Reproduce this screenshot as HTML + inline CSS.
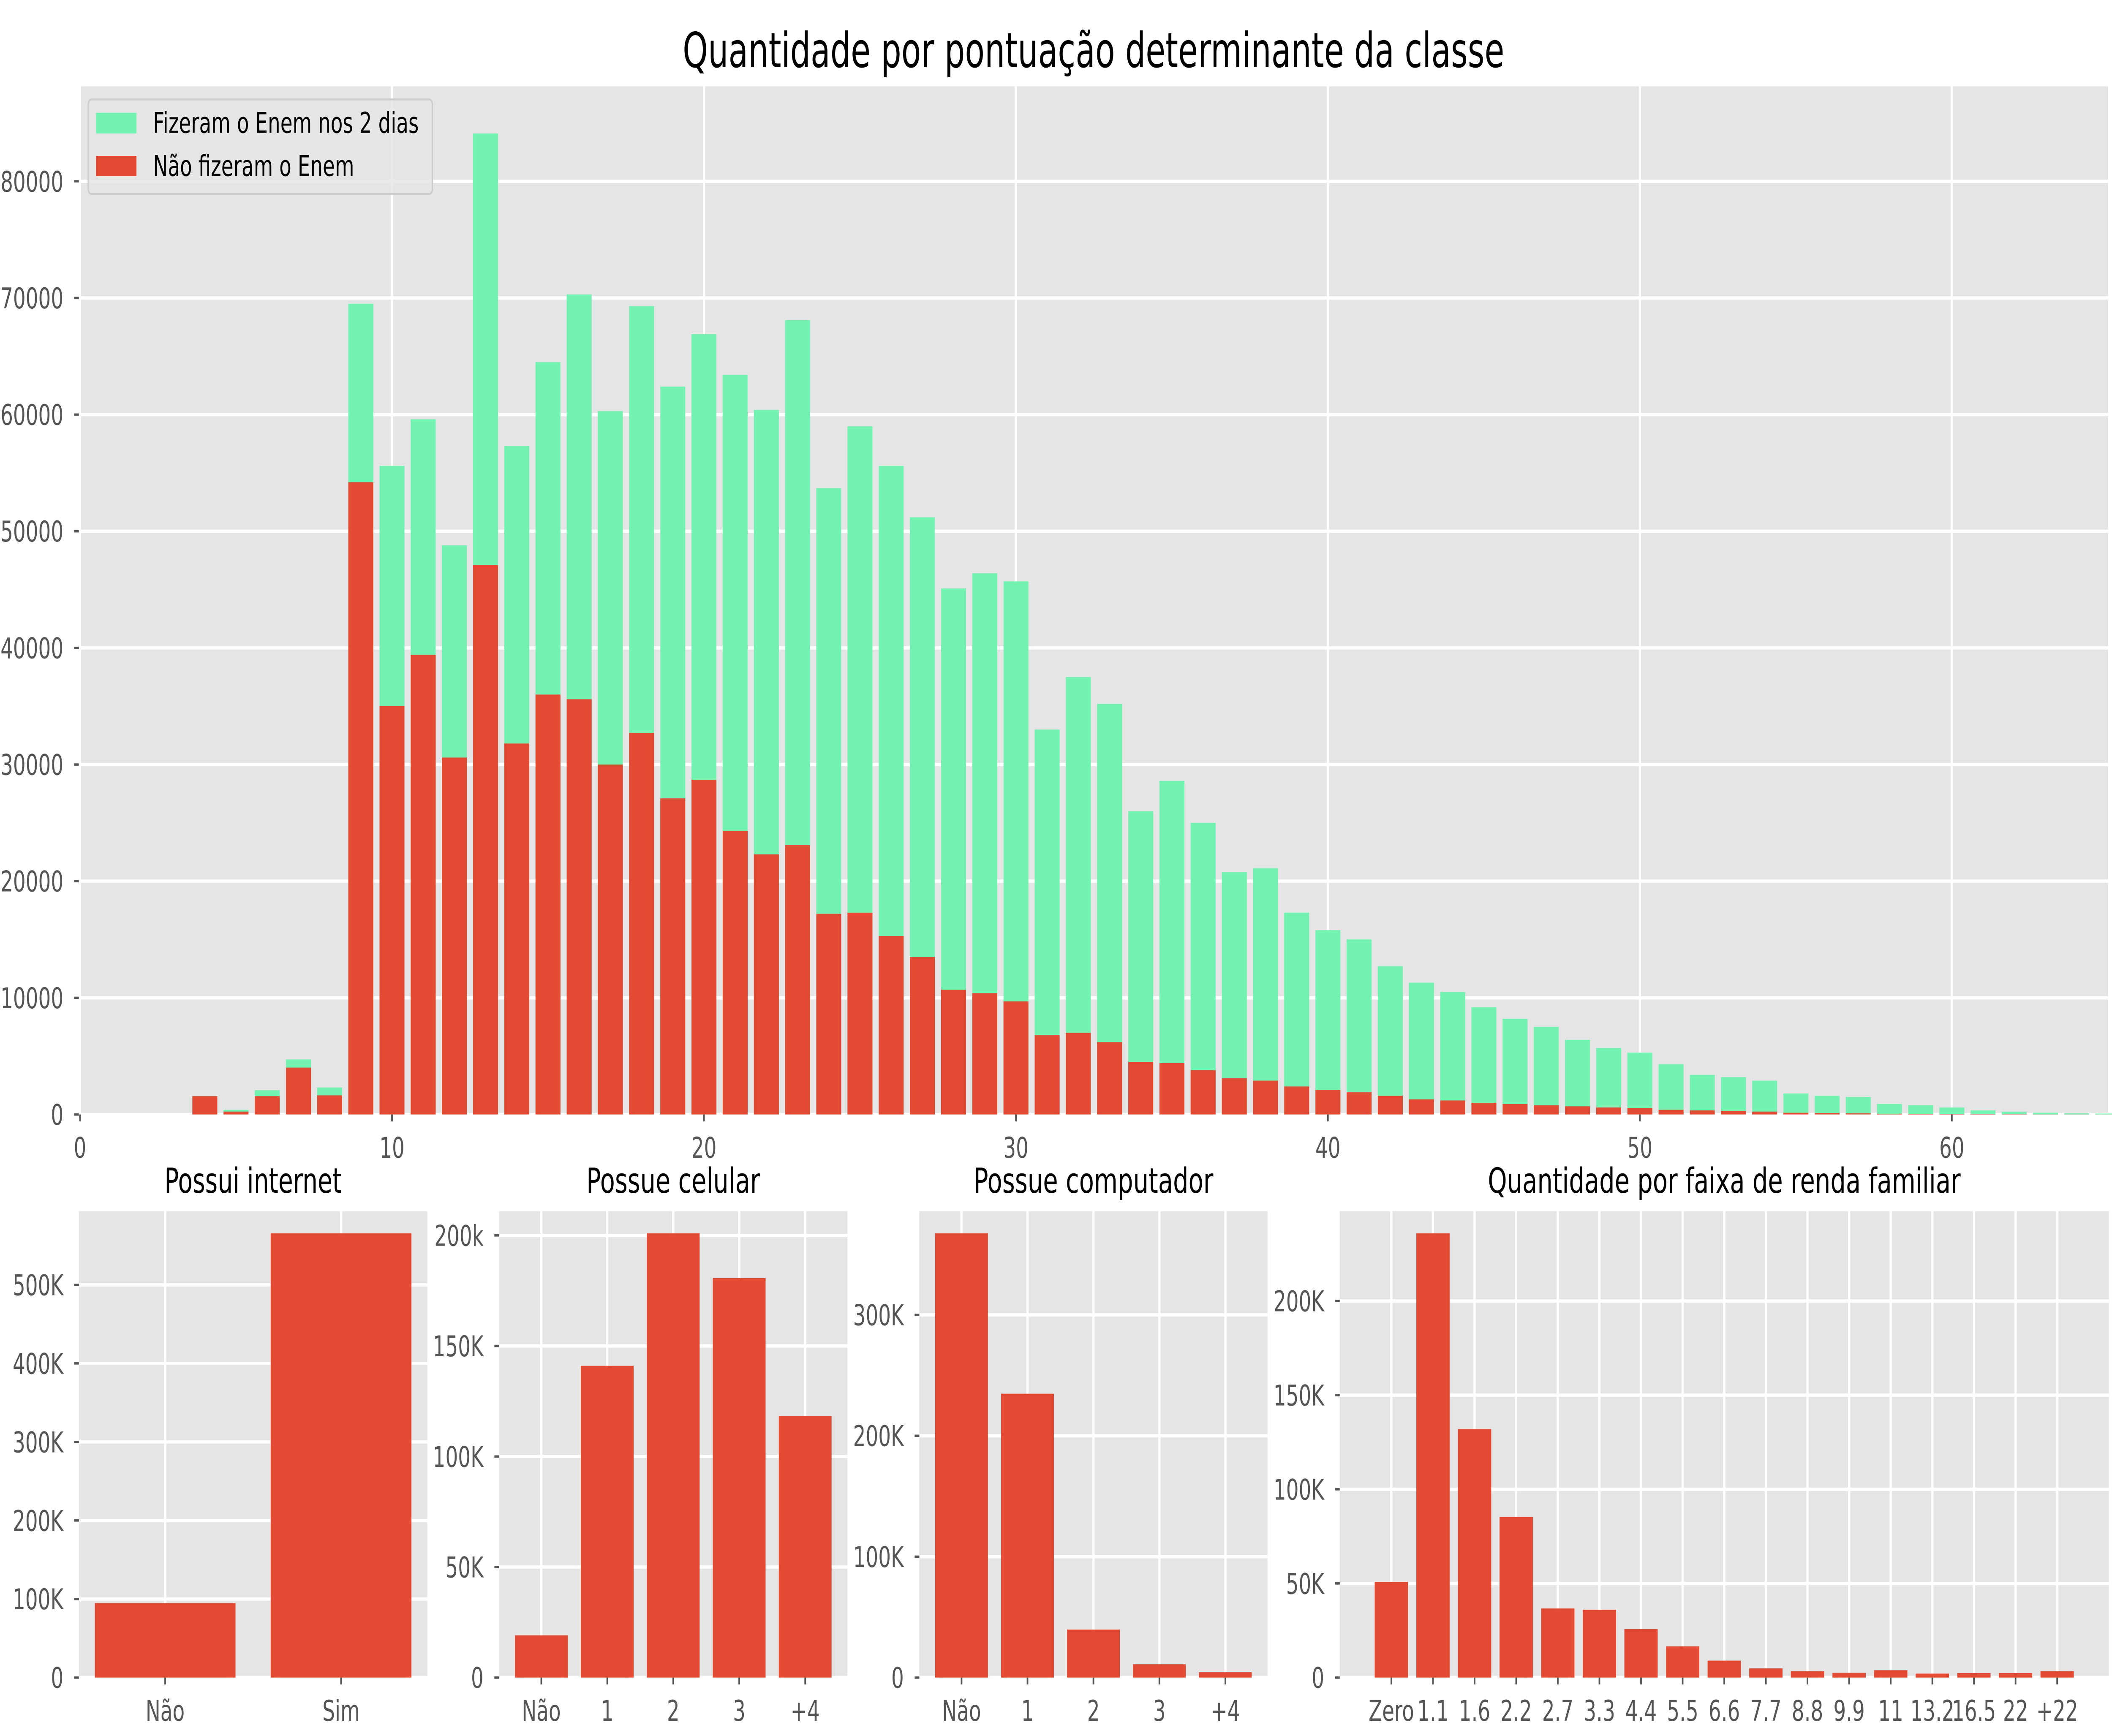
<!DOCTYPE html>
<html><head><meta charset="utf-8">
<style>
html,body{margin:0;padding:0;background:#fff;width:100%;height:100%;overflow:hidden;}
svg{display:block;width:100vw;height:100vh;font-family:"DejaVu Sans","Liberation Sans",sans-serif;}
</style></head>
<body>
<svg id="fig" viewBox="0 0 1567.9 888.5" preserveAspectRatio="none" xmlns="http://www.w3.org/2000/svg">
<rect x="0" y="0" width="1567.9" height="888.5" fill="#ffffff"/>
<text x="811.8" y="34.4" font-size="24.6" text-anchor="middle" textLength="610" lengthAdjust="spacingAndGlyphs" fill="#000">Quantidade por pontuação determinante da classe</text>
<g id="main"></g>
<g id="sub1"></g><g id="sub2"></g><g id="sub3"></g><g id="sub4"></g>
</svg>
<script>
// ---- main chart data ----
const scoreCats = [4,5,6,7,8,9,10,11,12,13,14,15,16,17,18,19,20,21,22,23,24,25,26,27,28,29,30,31,32,33,34,35,36,37,38,39,40,41,42,43,44,45,46,47,48,49,50,51,52,53,54,55,56,57,58,59,60,61,62,63,64,65];
const fezEnem = [1570,400,2080,4720,2310,69500,55600,59600,48800,84100,57300,64500,70300,60300,69300,62400,66900,63400,60400,68100,53700,59000,55600,51200,45100,46400,45700,33000,37500,35200,26000,28600,25000,20800,21100,17300,15800,15000,12700,11300,10500,9200,8200,7500,6400,5700,5300,4300,3400,3200,2900,1800,1600,1500,900,800,600,350,250,150,100,80];
const naoFez = [1570,250,1570,4020,1640,54200,35000,39400,30600,47100,31800,36000,35600,30000,32700,27100,28700,24300,22300,23100,17200,17300,15300,13500,10700,10400,9700,6800,7000,6200,4500,4400,3800,3100,2900,2400,2100,1900,1600,1300,1200,1000,900,800,700,600,550,400,350,300,250,150,120,100,60,40,30,20,15,10,8,5];
const mainXTicks = [0,10,20,30,40,50,60];
const mainYTicks = [0,10000,20000,30000,40000,50000,60000,70000,80000];
// ---- sub charts data ----
const internetCats = ["Não","Sim"];
const internetVals = [94800,565500];
const internetTicks = [0,100000,200000,300000,400000,500000];
const internetTickLabels = ["0","100K","200K","300K","400K","500K"];
const celularCats = ["Não","1","2","3","+4"];
const celularVals = [19100,141000,200900,180700,118400];
const celularTicks = [0,50000,100000,150000,200000];
const celularTickLabels = ["0","50K","100K","150K","200k"];
const compCats = ["Não","1","2","3","+4"];
const compVals = [367400,234800,39700,11000,4400];
const compTicks = [0,100000,200000,300000];
const compTickLabels = ["0","100K","200K","300K"];
const rendaCats = ["Zero","1.1","1.6","2.2","2.7","3.3","4.4","5.5","6.6","7.7","8.8","9.9","11","13.2","16.5","22","+22"];
const rendaVals = [50800,235900,131900,85200,36700,36000,25800,16600,9000,4900,3400,2600,3900,2100,2400,2400,3400];
const rendaTicks = [0,50000,100000,150000,200000];
const rendaTickLabels = ["0","50K","100K","150K","200K"];

const NS = "http://www.w3.org/2000/svg";
const RED = "#E24A33", GREEN = "#74F2B1", GRID = "#ffffff", BG = "#E5E5E5", TICK = "#555555";
function mk(tag, attrs, parent){ const e=document.createElementNS(NS,tag); for(const k in attrs) e.setAttribute(k,attrs[k]); parent.appendChild(e); return e; }

// ---- main chart ----
(function(){
  const g = document.getElementById('main');
  const L=58.6, R=1565, T=44.2, B=570.4;
  const xmin=-0.035, pxPerUnit=23.16;
  const ymax = (B-T)/59.7*10000;
  const xs = v => L + (v - xmin)*pxPerUnit;
  const ys = v => B - v/ymax*(B-T);
  const bg = mk('rect',{x:L,y:T,width:R-L,height:B-T,fill:BG},g);
  
  
  mainYTicks.forEach(t=>{
    const y=ys(t);
    const ln = mk('line',{x1:L,x2:R,y1:y,y2:y,stroke:GRID,'stroke-width':1.7},g);
    
    
    mk('line',{x1:L-3.5,x2:L,y1:y,y2:y,stroke:TICK,'stroke-width':1.2},g);
    const tx = mk('text',{x:L-11.5,y:y+5.3,'font-size':14.7,'text-anchor':'end',fill:TICK},g);
    tx.textContent=String(t);
    
    
  });
  mainXTicks.forEach(t=>{
    const x=xs(t);
    const ln = mk('line',{x1:x,x2:x,y1:T,y2:B,stroke:GRID,'stroke-width':1.7},g);
    
    
    mk('line',{x1:x,x2:x,y1:B,y2:B+3.5,stroke:TICK,'stroke-width':1.2},g);
    const tx = mk('text',{x:x,y:592.5,'font-size':14.7,'text-anchor':'middle',fill:TICK},g);
    tx.textContent=String(t);
    
    
  });
  scoreCats.forEach((c,i)=>{
    const x=xs(c-0.4), w=0.8*pxPerUnit;
    const gb = mk('rect',{x:x,y:ys(fezEnem[i]),width:w,height:B-ys(fezEnem[i]),fill:GREEN},g);
    
    
  });
  scoreCats.forEach((c,i)=>{
    const x=xs(c-0.4), w=0.8*pxPerUnit;
    const rb = mk('rect',{x:x,y:ys(naoFez[i]),width:w,height:B-ys(naoFez[i]),fill:RED},g);
    
    
  });
  // legend
  const lg = mk('g',{},g);
  
  
  mk('rect',{x:65.5,y:50.9,width:255.5,height:48.4,rx:2.5,fill:'#E5E5E5','fill-opacity':0.8,stroke:'#CCCCCC','stroke-width':1},lg);
  mk('rect',{x:71.3,y:57.7,width:30,height:10.6,fill:GREEN},lg);
  mk('rect',{x:71.3,y:79.8,width:30,height:10.3,fill:RED},lg);
  const t1=mk('text',{x:113.6,y:68,'font-size':14.7,fill:'#000'},lg); t1.textContent='Fizeram o Enem nos 2 dias';
  
  
  const t2=mk('text',{x:113.6,y:90,'font-size':14.7,fill:'#000'},lg); t2.textContent='Não fizeram o Enem';
  
  
})();

// ---- sub charts ----
function subChart(id, name, title, titleLen, L, R, cats, vals, ticks, tickLabels, ymax){
  const g=document.getElementById(id);
  
  
  const T=619.9, B=858.6;
  const n=cats.length;
  const xmin=-0.4-0.05*(n-0.2), xmax=n-0.6+0.05*(n-0.2);
  const xs=v=>L+(v-xmin)/(xmax-xmin)*(R-L);
  const ys=v=>B-v/ymax*(B-T);
  mk('rect',{x:L,y:T,width:R-L,height:B-T,fill:BG},g);
  ticks.forEach((t,i)=>{
    const y=ys(t);
    const ln=mk('line',{x1:L,x2:R,y1:y,y2:y,stroke:GRID,'stroke-width':1.7},g);
    
    
    mk('line',{x1:L-3.5,x2:L,y1:y,y2:y,stroke:TICK,'stroke-width':1.2},g);
    const tx=mk('text',{x:L-11.5,y:y+5.3,'font-size':14.7,'text-anchor':'end',fill:TICK},g);
    tx.textContent=tickLabels[i];
    
    
  });
  cats.forEach((c,i)=>{
    const x=xs(i);
    const ln=mk('line',{x1:x,x2:x,y1:T,y2:B,stroke:GRID,'stroke-width':1.7},g);
    
    
    mk('line',{x1:x,x2:x,y1:B,y2:B+3.5,stroke:TICK,'stroke-width':1.2},g);
    const tx=mk('text',{x:x,y:880.7,'font-size':14.7,'text-anchor':'middle',fill:TICK},g);
    tx.textContent=c;
    
    
  });
  cats.forEach((c,i)=>{
    const x0=xs(i-0.4), x1=xs(i+0.4);
    const b=mk('rect',{x:x0,y:ys(vals[i]),width:x1-x0,height:B-ys(vals[i]),fill:RED},g);
    
    
  });
  const tt=mk('text',{x:(L+R)/2,y:610.5,'font-size':17.7,'text-anchor':'middle',fill:'#000',textLength:titleLen,lengthAdjust:'spacingAndGlyphs'},g);
  tt.textContent=title;
  
  
}
subChart('sub1','internet-chart','Possui internet',131.7,58.6,317.2,internetCats,internetVals,internetTicks,internetTickLabels,Math.max(...internetVals)*1.05);
subChart('sub2','celular-chart','Possue celular',129,370.5,629.1,celularCats,celularVals,celularTicks,celularTickLabels,Math.max(...celularVals)*1.05);
subChart('sub3','computador-chart','Possue computador',178,682.5,941,compCats,compVals,compTicks,compTickLabels,Math.max(...compVals)*1.05);
subChart('sub4','renda-chart','Quantidade por faixa de renda familiar',351,994.6,1565.5,rendaCats,rendaVals,rendaTicks,rendaTickLabels,Math.max(...rendaVals)*1.05);
</script>
</body></html>
